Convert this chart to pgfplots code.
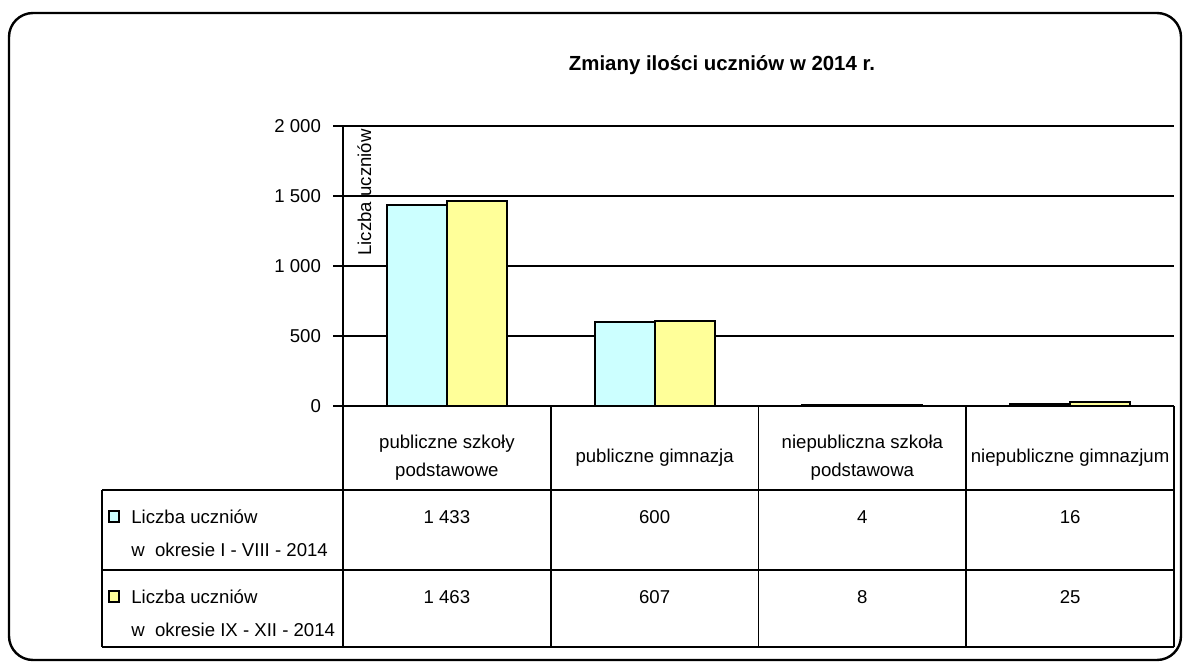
\documentclass[border=0pt]{standalone}
\usepackage{fontspec}
\setmainfont{Liberation Sans}
\usepackage{pgfplots}
\pgfplotsset{compat=1.18}
\usepackage{pgfplotstable}

\definecolor{barcyan}{HTML}{CCFFFF}
\definecolor{baryellow}{HTML}{FFFF99}

% a = okres I-VIII 2014, b = okres IX-XII 2014
\pgfplotstableread{
x a b
0 1433 1463
1 600 607
2 4 8
3 16 25
}\uczniowie

\begin{document}
\begin{tikzpicture}[font=\fontsize{9.3}{11}\selectfont]
% frame and title, in pixel units of the 1184x663 picture
\begin{scope}[x=0.5pt,y=-0.5pt]
\useasboundingbox (0,0) rectangle (1184,663);
\draw[line width=1.2pt, rounded corners=12pt] (9,13) rectangle (1181,660);
\node[font=\fontsize{10.2}{12}\selectfont\bfseries] at (722,65) {Zmiany ilości uczniów w 2014 r.};
\end{scope}

\begin{axis}[
  at={(171.5pt,-203pt)}, anchor=south west,
  scale only axis, width=415.5pt, height=140pt,
  xmin=-0.5, xmax=3.5, ymin=0, ymax=2000,
  ybar=0pt, bar width=30pt,
  axis lines=left, axis line style={-, line width=1pt},
  xtick={0,1,2,3},
  xticklabels={{publiczne szkoły\\podstawowe},{publiczne gimnazja},{niepubliczna szkoła\\podstawowa},{niepubliczne gimnazjum}},
  xtick style={draw=none},
  xticklabel style={align=center, anchor=center, yshift=-21pt, font=\fontsize{9.3}{14}\selectfont},
  ytick={0,500,1000,1500,2000},
  tick align=outside, major tick length=5pt,
  ytick style={black, line width=0.8pt},
  ymajorgrids, grid style={black, line width=0.8pt},
  /pgf/number format/1000 sep={\ },
  /pgf/number format/assume math mode=true,
  yticklabel style={font=\fontsize{9.3}{11}\selectfont, xshift=-2.5pt},
  clip=false,
]
\addplot[fill=barcyan, draw=black, line width=1pt] table[x=x,y=a]{\uczniowie};
\addplot[fill=baryellow, draw=black, line width=1pt] table[x=x,y=b]{\uczniowie};
\end{axis}

% data table under the chart
\begin{scope}[x=0.5pt,y=-0.5pt]
\node[rotate=90, anchor=north east, inner sep=0pt] at (357,129) {Liczba uczniów};
\begin{scope}[line width=0.9pt]
\draw (102,490) -- (1174,490);
\draw (102,570) -- (1174,570);
\draw (102,647) -- (1174,647);
\draw (102,490) -- (102,647);
\foreach \cx in {343,550.75,758.5,966.25,1174} \draw (\cx,406) -- (\cx,647);
\end{scope}
\draw[line width=0.8pt, fill=barcyan] (109,511) rectangle (119,522);
\draw[line width=0.8pt, fill=baryellow] (109,591) rectangle (119,602);
\node[anchor=west, inner sep=0pt] at (131,517) {Liczba uczniów};
\node[anchor=west, inner sep=0pt] at (131,550) {w\ \ okresie I - VIII - 2014};
\node[anchor=west, inner sep=0pt] at (131,597) {Liczba uczniów};
\node[anchor=west, inner sep=0pt] at (131,630) {w\ \ okresie IX - XII - 2014};
\foreach \i/\cx in {0/446.9,1/654.6,2/862.4,3/1070.1} {
  \pgfplotstablegetelem{\i}{a}\of{\uczniowie}
  \node at (\cx,517) {\pgfmathprintnumber[1000 sep={\ }, assume math mode=true]{\pgfplotsretval}};
  \pgfplotstablegetelem{\i}{b}\of{\uczniowie}
  \node at (\cx,597) {\pgfmathprintnumber[1000 sep={\ }, assume math mode=true]{\pgfplotsretval}};
}
\end{scope}
\end{tikzpicture}
\end{document}
